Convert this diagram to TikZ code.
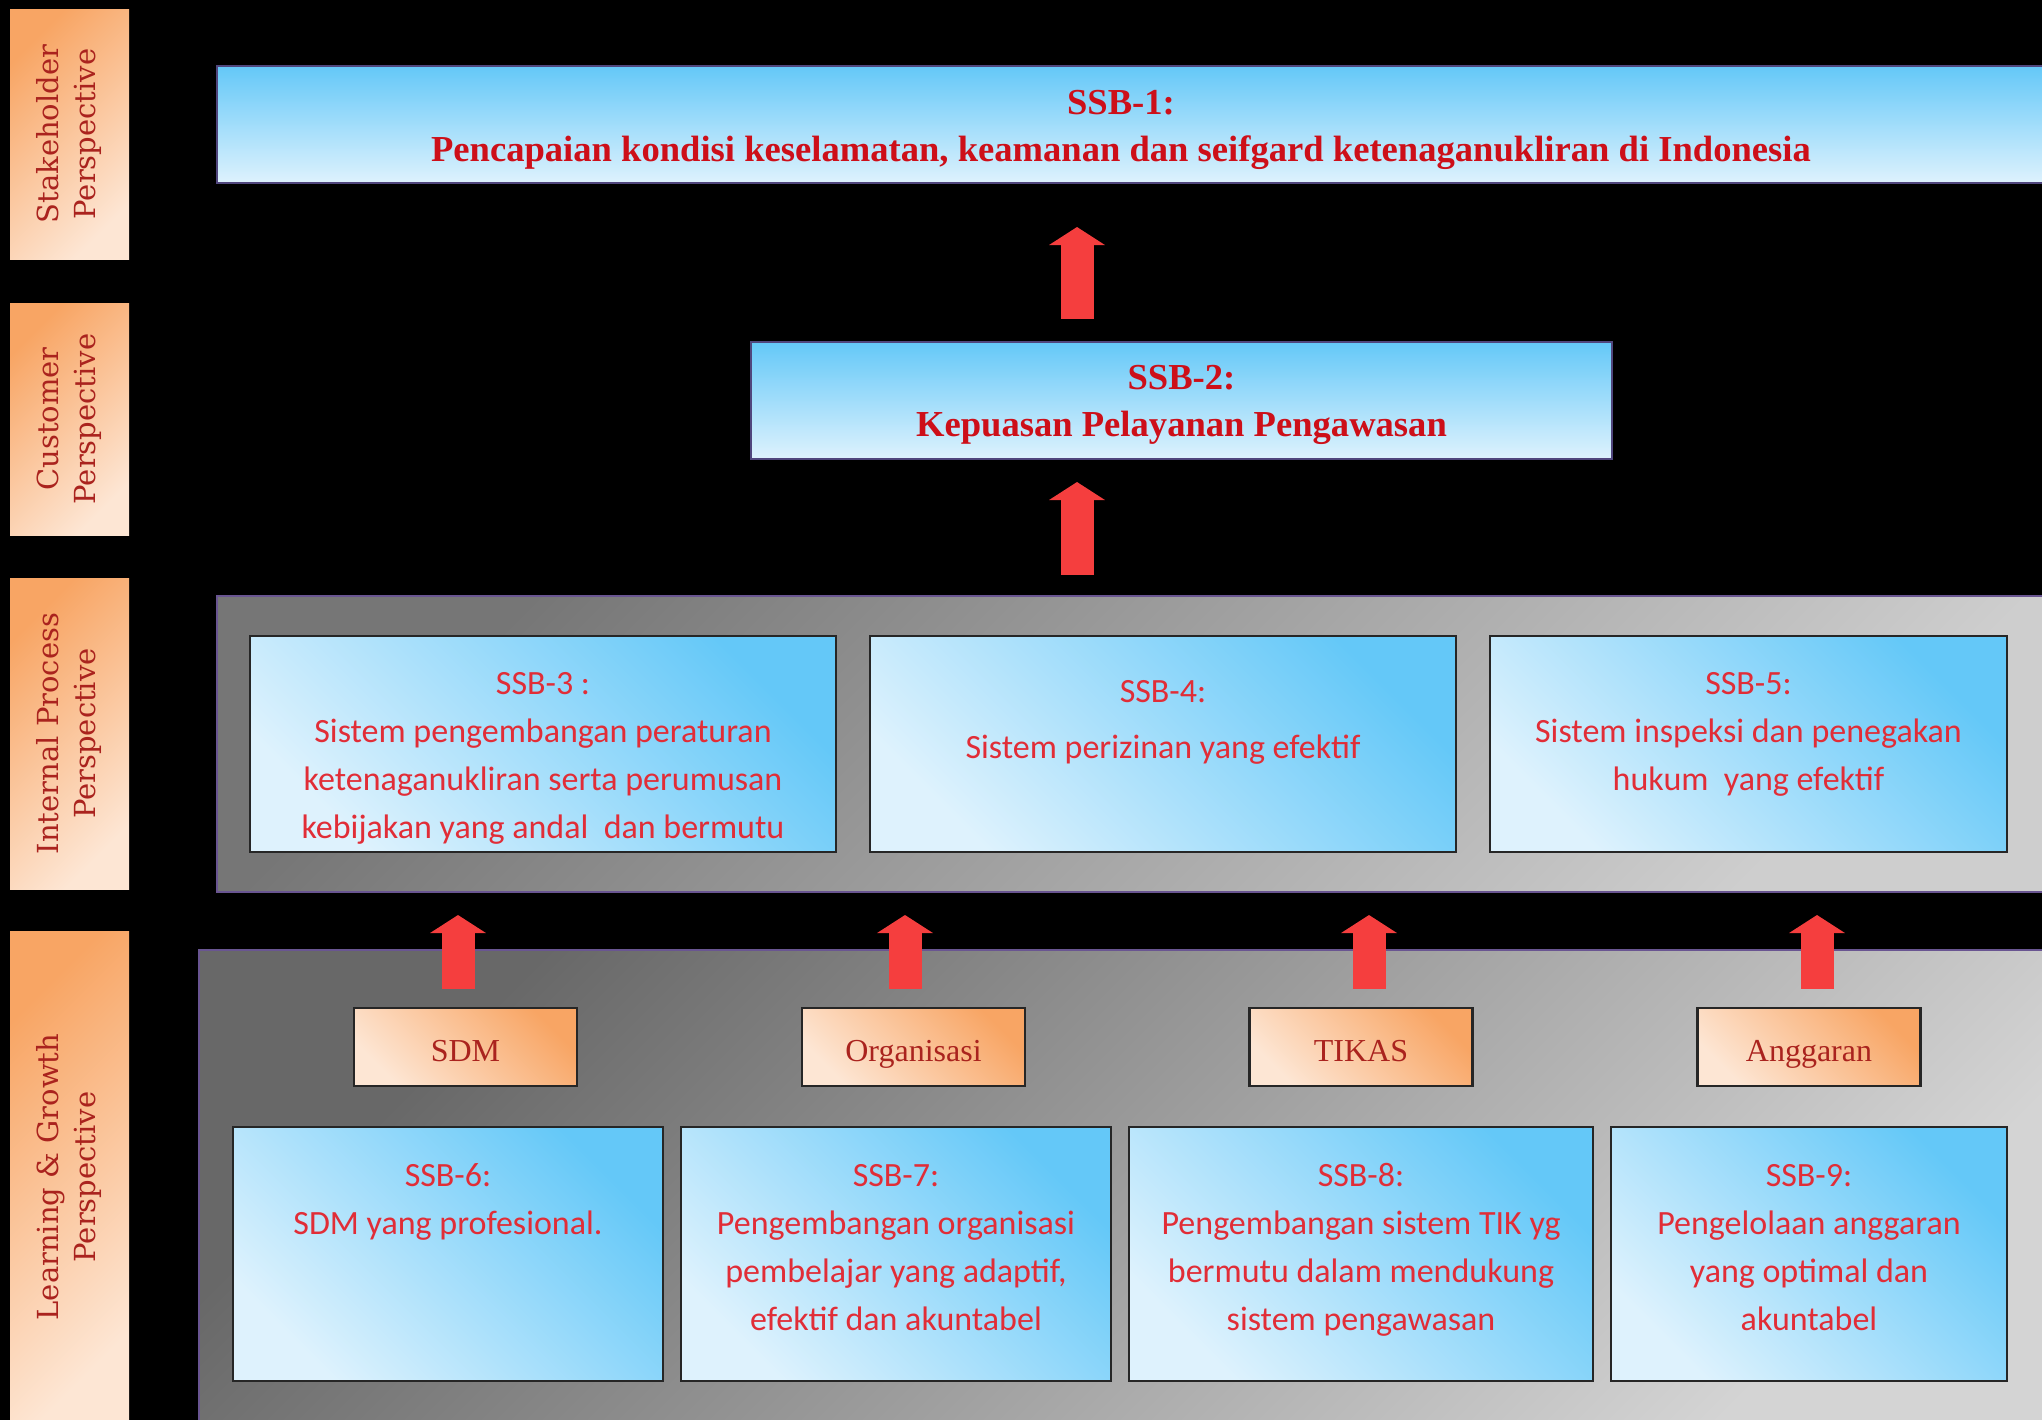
\documentclass[tikz,border=0pt]{standalone}
\usepackage{fontspec}
\setmainfont{Liberation Serif}
\newfontfamily\calib{Carlito}
\newfontfamily\slab{DejaVu Serif}
\usetikzlibrary{arrows.meta}
\definecolor{bluedark}{RGB}{100,200,248}
\definecolor{bluelight}{RGB}{222,242,253}
\definecolor{orangedark}{RGB}{248,165,100}
\definecolor{orangelight}{RGB}{253,230,212}
\definecolor{grayAdark}{RGB}{118,118,118}
\definecolor{grayAlight}{RGB}{206,206,206}
\definecolor{grayBdark}{RGB}{104,104,104}
\definecolor{grayBlight}{RGB}{212,212,212}
\definecolor{txtred}{RGB}{225,45,55}
\definecolor{titlered}{RGB}{205,15,25}
\definecolor{lbltxt}{RGB}{170,35,30}
\definecolor{arrowred}{RGB}{245,62,62}
\definecolor{panelborder}{RGB}{105,85,145}
\definecolor{titleborder}{RGB}{80,70,125}
\newcommand\mybx[4]{\parbox[c][#2][t]{#1}{\centering\rule{0pt}{#3}#4\par}}
\newcommand\mylbl[1]{\rotatebox{90}{\begin{tabular}{@{}c@{}}#1\end{tabular}}}
\begin{document}
\begin{tikzpicture}[x=0.5pt,y=-0.5pt,
  lblbox/.style={inner sep=0pt, top color=orangedark, bottom color=orangelight, shading angle=45,
    text=lbltxt, font=\slab\fontsize{14.5pt}{18.5pt}\selectfont, minimum width=59.5pt},
  titlebox/.style={draw=titleborder, line width=1pt, inner sep=0pt, top color=bluedark, bottom color=bluelight,
    text=titlered, font=\bfseries\fontsize{18.3pt}{23.5pt}\selectfont},
  panelA/.style={draw=panelborder, line width=1pt, inner sep=0pt, top color=grayAdark, bottom color=grayAlight, shading angle=45},
  panelB/.style={draw=panelborder, line width=1pt, inner sep=0pt, top color=grayBdark, bottom color=grayBlight, shading angle=45},
  bluebox/.style={draw=black!85, line width=1.2pt, inner sep=0pt, top color=bluedark, bottom color=bluelight, shading angle=-45,
    text=txtred, font=\calib\fontsize{17pt}{24pt}\selectfont},
  orbox/.style={draw=black!85, line width=1.2pt, inner sep=0pt, top color=orangedark, bottom color=orangelight, shading angle=-45,
    text=lbltxt, font=\fontsize{16pt}{19pt}\selectfont, minimum width=111.5pt, minimum height=39pt,
    text height=17.5pt, text depth=3.5pt},
  bigarr/.style={draw=arrowred, line width=16.5pt, -{Triangle[width=27.5pt,length=9pt]}}
]
\fill[black] (0,0) rectangle (2042,1420);
\useasboundingbox (0,0) rectangle (2042,1420);

% perspective labels
\node[lblbox, minimum height=125pt] (l1) at (69.5,134) {\mylbl{Stakeholder\\Perspective}};
\node[lblbox, minimum height=116pt] (l2) at (69.5,419) {\mylbl{Customer\\Perspective}};
\node[lblbox, minimum height=155.5pt] (l3) at (69.5,733.5) {\mylbl{Internal Process\\Perspective}};
\node[lblbox, minimum height=246pt] (l4) at (69.5,1177) {\mylbl{Learning \& Growth\\Perspective}};

% top objectives
\node[titlebox, anchor=north west] (ssb1) at (216,65)
  {\mybx{918pt}{58.5pt}{24.3pt}{\hspace*{-14pt}SSB-1:\\\hspace*{-14pt}Pencapaian kondisi keselamatan, keamanan dan seifgard ketenaganukliran di Indonesia}};
\node[titlebox, anchor=north west] (ssb2) at (750,341)
  {\mybx{430.5pt}{58.5pt}{23.5pt}{SSB-2:\\Kepuasan Pelayanan Pengawasan}};

% panels
\node[panelA, anchor=north west, minimum width=918pt, minimum height=148pt] (ip) at (216,595) {};
\node[panelB, anchor=north west, minimum width=928pt, minimum height=242pt] (lg) at (198,949) {};

% internal process boxes
\node[bluebox] (ssb3) at (543,744) {\mybx{293pt}{108pt}{29pt}{SSB-3 :\\Sistem pengembangan peraturan\\ketenaganukliran serta perumusan\\kebijakan yang andal\ \ dan bermutu}};
\node[bluebox] (ssb4) at (1163,744) {\mybx{293pt}{108pt}{33pt}{SSB-4:\\[4pt]Sistem perizinan yang efektif}};
\node[bluebox] (ssb5) at (1748.5,744) {\mybx{258.5pt}{108pt}{29pt}{SSB-5:\\Sistem inspeksi dan penegakan\\hukum\ \ yang efektif}};

% learning & growth
\node[orbox] (sdm) at (465.5,1047) {SDM};
\node[orbox] (org) at (913.5,1047) {Organisasi};
\node[orbox] (tik) at (1361,1047) {TIKAS};
\node[orbox] (ang) at (1809,1047) {Anggaran};

\node[bluebox] (ssb6) at (448,1254) {\mybx{215pt}{127pt}{29.5pt}{SSB-6:\\SDM yang profesional.}};
\node[bluebox] (ssb7) at (896,1254) {\mybx{215pt}{127pt}{29.5pt}{SSB-7:\\Pengembangan organisasi\\pembelajar yang adaptif,\\efektif dan akuntabel}};
\node[bluebox] (ssb8) at (1361,1254) {\mybx{232pt}{127pt}{29.5pt}{SSB-8:\\Pengembangan sistem TIK yg\\bermutu dalam mendukung\\sistem pengawasan}};
\node[bluebox] (ssb9) at (1809,1254) {\mybx{198pt}{127pt}{29.5pt}{SSB-9:\\Pengelolaan anggaran\\yang optimal dan\\akuntabel}};

% arrows
\coordinate (a0) at (1077,0);
\coordinate (a1) at (458,0);
\coordinate (a2) at (905,0);
\coordinate (a3) at (1369,0);
\coordinate (a4) at (1817,0);
\draw[bigarr, shorten <=11pt, shorten >=21.5pt] (ssb2.north -| a0) -- (ssb1.south -| a0);
\draw[bigarr, shorten <=10pt, shorten >=11pt] (ip.north -| a0) -- (ssb2.south -| a0);
\draw[bigarr, shorten <=9pt, shorten >=11pt] (sdm.north -| a1) -- (ip.south -| a1);
\draw[bigarr, shorten <=9pt, shorten >=11pt] (org.north -| a2) -- (ip.south -| a2);
\draw[bigarr, shorten <=9pt, shorten >=11pt] (tik.north -| a3) -- (ip.south -| a3);
\draw[bigarr, shorten <=9pt, shorten >=11pt] (ang.north -| a4) -- (ip.south -| a4);
\end{tikzpicture}
\end{document}
